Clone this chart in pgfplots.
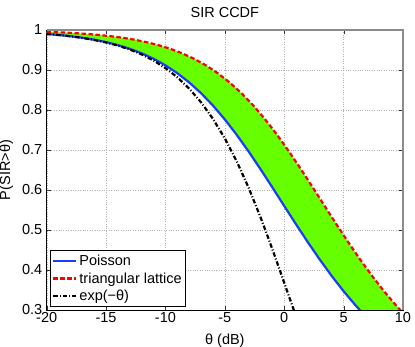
\documentclass[border=0pt]{standalone}
\usepackage{fontspec}
\setmainfont{Liberation Sans}
\usepackage{pgfplots}
\pgfplotsset{compat=1.18}
\newcommand{\mf}{\fontsize{14.5bp}{16bp}\selectfont}
\begin{document}
\begin{tikzpicture}[x=1bp,y=1bp]
\definecolor{MBlue}{RGB}{25,60,255}
\definecolor{MRed}{RGB}{255,0,0}
\definecolor{MGreen}{RGB}{102,255,0}
\useasboundingbox (0,0) rectangle (415,347);
\begin{axis}[
  name=ax,
  at={(46.7bp,37bp)}, anchor=south west,
  width=356.3bp, height=280bp, scale only axis,
  xmin=-20, xmax=10, ymin=0.3, ymax=1,
  xtick={-20,-15,...,10},
  ytick={0.3,0.4,...,1.0},
  tick pos=both, tick align=inside,
  major tick length=4bp,
  /pgf/number format/assume math mode=true,
  yticklabel style={/pgf/number format/fixed, /pgf/number format/precision=1, xshift=-1bp},
  xticklabel style={yshift=1bp},
  tick label style={font=\mf},
  label style={font=\mf},
  title style={font=\mf, yshift=3bp},
  title={SIR CCDF},
  xlabel={θ (dB)},
  xlabel style={yshift=-4bp},
  ylabel={P(SIR>θ)},
  ylabel style={yshift=2bp},
  grid=major,
  major grid style={dotted, black!30},
  axis line style={black, line width=0.9bp},
  tick style={black!80},
  legend style={font=\mf, at={(0.009,0.011)}, anchor=south west, draw=black, line width=0.7bp, inner xsep=2bp, inner ysep=2.5bp, row sep=1.5bp},
  legend cell align=left,
  legend image code/.code={\draw[#1] (0bp,0bp) -- (23bp,0bp);},
]
% region between the two curves
\addplot[fill=MGreen, draw=none, forget plot] coordinates {
(-21,0.99214) (-20,0.99013) (-19,0.98762) (-18,0.98448) (-17,0.98057) (-16,0.97569)
(-15,0.96965) (-14,0.96219) (-13,0.95301) (-12,0.94178) (-11,0.92814) (-10,0.91170)
(-9,0.89205) (-8,0.86893) (-7,0.84199) (-6,0.81113) (-5,0.77636) (-4,0.73793)
(-3,0.69631) (-2,0.65223) (-1,0.60650) (0,0.56010) (1,0.51396) (2,0.46895)
(3,0.42578) (4,0.38499) (5,0.34694) (6,0.31180) (7,0.27963) (8,0.25038)
(10.4,0.27963) (9.4,0.31180) (8.4,0.34694) (7.4,0.38499) (6.4,0.42578) (5.4,0.46895)
(4.4,0.51396) (3.4,0.56010) (2.4,0.60650) (1.4,0.65223) (0.4,0.69631) (-0.6,0.73793)
(-1.6,0.77636) (-2.6,0.81113) (-3.6,0.84199) (-4.6,0.86893) (-5.6,0.89205) (-6.6,0.91170)
(-7.6,0.92814) (-8.6,0.94178) (-9.6,0.95301) (-10.6,0.96219) (-11.6,0.96965) (-12.6,0.97569)
(-13.6,0.98057) (-14.6,0.98448) (-15.6,0.98762) (-16.6,0.99013) (-17.6,0.99214) (-18.6,0.99374)
(-19.6,0.99502) (-20.6,0.99604)
} -- cycle;
% Poisson
\addplot[MBlue, line width=2.2bp] coordinates {
(-20,0.99013) (-19,0.98762) (-18,0.98448) (-17,0.98057) (-16,0.97569)
(-15,0.96965) (-14,0.96219) (-13,0.95301) (-12,0.94178) (-11,0.92814) (-10,0.91170)
(-9,0.89205) (-8,0.86893) (-7,0.84199) (-6,0.81113) (-5,0.77636) (-4,0.73793)
(-3,0.69631) (-2,0.65223) (-1,0.60650) (0,0.56010) (1,0.51396) (2,0.46895)
(3,0.42578) (4,0.38499) (5,0.34694) (6,0.31180) (7,0.27963) (8,0.25038)
};
\addlegendentry{Poisson}
% triangular lattice
\addplot[MRed, line width=2.2bp, dash pattern=on 4.5bp off 2.5bp] coordinates {
(-20.6,0.99604) (-19.6,0.99502) (-18.6,0.99374) (-17.6,0.99214) (-16.6,0.99013)
(-15.6,0.98762) (-14.6,0.98448) (-13.6,0.98057) (-12.6,0.97569) (-11.6,0.96965)
(-10.6,0.96219) (-9.6,0.95301) (-8.6,0.94178) (-7.6,0.92814) (-6.6,0.91170)
(-5.6,0.89205) (-4.6,0.86893) (-3.6,0.84199) (-2.6,0.81113) (-1.6,0.77636)
(-0.6,0.73793) (0.4,0.69631) (1.4,0.65223) (2.4,0.60650) (3.4,0.56010)
(4.4,0.51396) (5.4,0.46895) (6.4,0.42578) (7.4,0.38499) (8.4,0.34694)
(9.4,0.31180) (10.4,0.27963)
};
\addlegendentry{triangular lattice}
% exp(-theta)
\addplot[black, line width=2.2bp, dash pattern=on 4.5bp off 2bp on 1bp off 2bp] coordinates {
(-20,0.99005) (-19,0.98749) (-18,0.98428) (-17,0.98024) (-16,0.97519)
(-15,0.96887) (-14,0.96097) (-13,0.95111) (-12,0.93885) (-11,0.92364)
(-10,0.90484) (-9,0.88172) (-8,0.85343) (-7,0.81911) (-6,0.77788)
(-5,0.72891) (-4,0.67159) (-3,0.60581) (-2,0.53210) (-1.5,0.49265)
(-1,0.45189) (-0.5,0.41013) (0,0.36788) (0.5,0.32563) (1,0.28397)
};
\addlegendentry{exp(−θ)}
\end{axis}
\draw[black!45, line width=1.4bp] (ax.north west) -- (ax.north east) -- (ax.south east);
\end{tikzpicture}
\end{document}
